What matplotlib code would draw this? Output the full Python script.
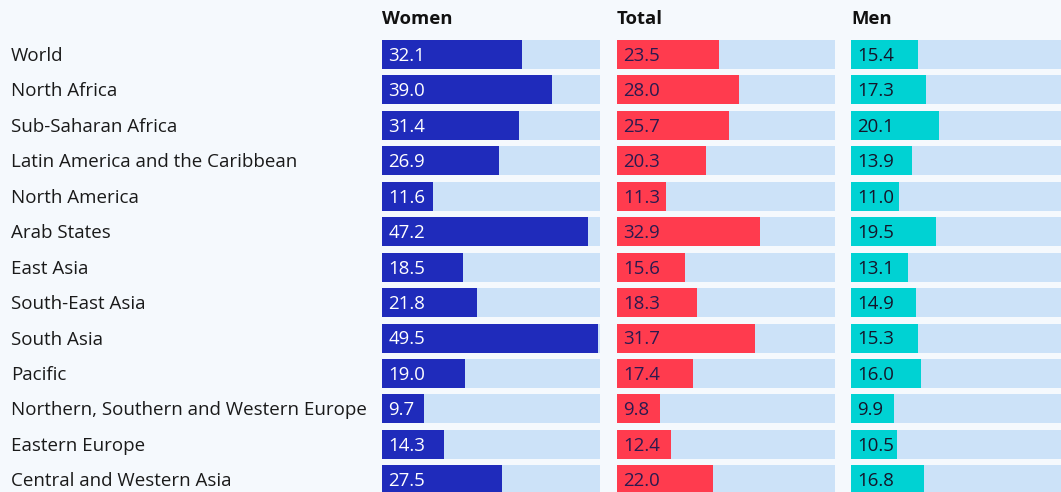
import matplotlib
matplotlib.use("Agg")
import matplotlib.pyplot as plt

regions = ["World", "North Africa", "Sub-Saharan Africa", "Latin America and the Caribbean",
           "North America", "Arab States", "East Asia", "South-East Asia", "South Asia",
           "Pacific", "Northern, Southern and Western Europe", "Eastern Europe",
           "Central and Western Asia"]
women = [32.1, 39.0, 31.4, 26.9, 11.6, 47.2, 18.5, 21.8, 49.5, 19.0, 9.7, 14.3, 27.5]
total = [23.5, 28.0, 25.7, 20.3, 11.3, 32.9, 15.6, 18.3, 31.7, 17.4, 9.8, 12.4, 22.0]
men = [15.4, 17.3, 20.1, 13.9, 11.0, 19.5, 13.1, 14.9, 15.3, 16.0, 9.9, 10.5, 16.8]
headers = ["Women", "Total", "Men"]

W, H = 1061, 492
BG = "#f5f9fd"
TRACK = "#cce2f8"
FONT = "Open Sans"
plt.rcParams["font.family"] = [FONT, "DejaVu Sans"]

fig = plt.figure(figsize=(W / 100, H / 100), dpi=100, facecolor=BG)

pitch = 35.44
c0 = 54.5
y_top = -c0 / pitch
y_bot = (H - c0) / pitch
bar_h = 29 / pitch
xmax = 50

panels = [
    (382, women, "#1f2bbb", "white"),
    (617, total, "#ff3b4e", "#2b1a4f"),
    (851, men, "#00d2d3", "#15152a"),
]
track_w = 218

for (x0, vals, col, tcol), head in zip(panels, headers):
    ax = fig.add_axes([x0 / W, 0, track_w / W, 1])
    ax.set_facecolor("none")
    ypos = list(range(len(vals)))
    ax.barh(ypos, [xmax] * len(vals), height=bar_h, color=TRACK, left=0)
    ax.barh(ypos, vals, height=bar_h, color=col, left=0)
    for y, v in zip(ypos, vals):
        ax.text(1.5, y + 0.04, f"{v:.1f}", va="center", ha="left", color=tcol, fontsize=13.4)
    ax.set_xlim(0, xmax)
    ax.set_ylim(y_bot, y_top)
    ax.axis("off")
    fig.text(x0 / W, 1 - 19 / H, head, ha="left", va="center", fontsize=13.3,
             fontweight="bold", color="#111111")

for i, r in enumerate(regions):
    fig.text(11 / W, 1 - (c0 + 1.5 + i * pitch) / H, r, ha="left", va="center",
             fontsize=13.5, color="#1a1a1a")

fig.savefig("out.png", dpi=100, facecolor=BG)
